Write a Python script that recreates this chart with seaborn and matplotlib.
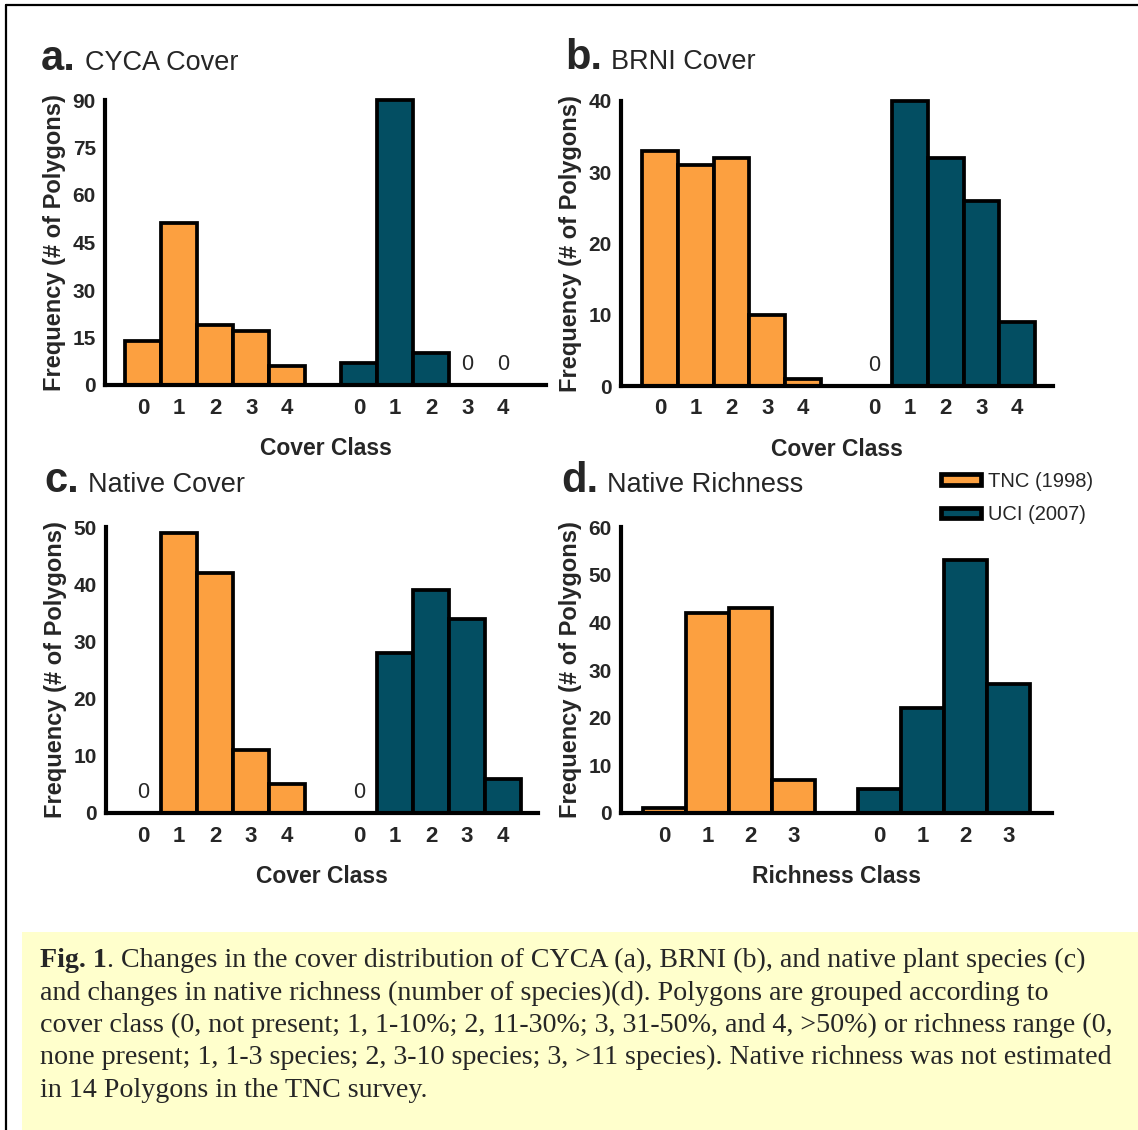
import matplotlib.pyplot as plt
import matplotlib.patches as mpatches
from matplotlib.lines import Line2D
import pandas as pd
import seaborn as sns

# survey groups and class labels
surveys = ['TNC (1998)', 'UCI (2007)']
cover_classes = [0, 1, 2, 3, 4]
richness_classes = [0, 1, 2, 3]

# counts of polygons per class
cyca_tnc = [14, 51, 19, 17, 6]
cyca_uci = [7, 90, 10, 0, 0]
brni_tnc = [33, 31, 32, 10, 1]
brni_uci = [0, 40, 32, 26, 9]
native_tnc = [0, 49, 42, 11, 5]
native_uci = [0, 28, 39, 34, 6]
rich_tnc = [1, 42, 43, 7]
rich_uci = [5, 22, 53, 27]

cyca_yticks = [0, 15, 30, 45, 60, 75, 90]
brni_yticks = [0, 10, 20, 30, 40]
native_yticks = [0, 10, 20, 30, 40, 50]
rich_yticks = [0, 10, 20, 30, 40, 50, 60]

colors = {'TNC (1998)': '#FCA040', 'UCI (2007)': '#034E62'}

caption_lines = [
    "Changes in the cover distribution of CYCA (a), BRNI (b), and native plant species (c)",
    "and changes in native richness (number of species)(d). Polygons are grouped according to",
    "cover class (0, not present; 1, 1-10%; 2, 11-30%; 3, 31-50%, and 4, >50%) or richness range (0,",
    "none present; 1, 1-3 species; 2, 3-10 species; 3, >11 species). Native richness was not estimated",
    "in 14 Polygons in the TNC survey.",
]

sns.set_style('white')
plt.rcParams['font.family'] = ['Liberation Sans', 'DejaVu Sans']

W, H = 1138, 1130
fig = plt.figure(figsize=(W / 100, H / 100), dpi=100)


def px_rect(l, r, t, b):
    return [l / W, 1 - b / H, (r - l) / W, (b - t) / H]


# letter, title, classes, tnc, uci, yticks, xlabel, axes box (px), xlim, letter pos, title x
panels = [
    ('a.', 'CYCA Cover', cover_classes, cyca_tnc, cyca_uci, cyca_yticks, 'Cover Class',
     (105, 546, 100, 385), (-1.06, 11.19), (41, 70), 85),
    ('b.', 'BRNI Cover', cover_classes, brni_tnc, brni_uci, brni_yticks, 'Cover Class',
     (621, 1053, 101, 386), (-1.09, 11.0), (565, 69), 611),
    ('c.', 'Native Cover', cover_classes, native_tnc, native_uci, native_yticks, 'Cover Class',
     (106, 538, 527, 813), (-1.03, 10.97), (44, 492), 88),
    ('d.', 'Native Richness', richness_classes, rich_tnc, rich_uci, rich_yticks, 'Richness Class',
     (621, 1052, 527, 813), (-1.01, 9.0), (561, 492), 607),
]

for letter, title, classes, tnc, uci, yticks, xlabel, box, xlim, lpos, tx in panels:
    ax = fig.add_axes(px_rect(*box))
    gap = len(classes) + 1
    df = pd.DataFrame({
        'survey': [surveys[0]] * len(classes) + [surveys[1]] * len(classes),
        'cls': classes + classes,
        'pos': list(range(len(classes))) + [i + gap for i in range(len(classes))],
        'count': tnc + uci,
    })
    sns.barplot(data=df, x='pos', y='count', hue='survey', palette=colors,
                native_scale=True, width=1, dodge=False, errorbar=None, saturation=1,
                edgecolor='black', linewidth=2.7, legend=False, ax=ax)
    for p in ax.patches:
        p.set_clip_on(False)

    # "0" above empty classes
    for _, row in df[df['count'] == 0].iterrows():
        ax.annotate('0', (row['pos'], 0), xytext=(0, 7), textcoords='offset points',
                    ha='center', va='bottom', fontsize=15.5)

    ax.set_xlim(*xlim)
    ax.set_ylim(0, yticks[-1])
    ax.set_xticks(df['pos'], labels=[str(c) for c in df['cls']],
                  fontsize=16, fontweight='bold')
    ax.set_yticks(yticks, labels=[str(v) for v in yticks],
                  fontsize=15, fontweight='bold')
    ax.tick_params(axis='x', length=0, pad=9)
    ax.tick_params(axis='y', direction='out', length=6, width=2.4, pad=0.5)
    for side in ['top', 'right']:
        ax.spines[side].set_visible(False)
    for side in ['left', 'bottom']:
        ax.spines[side].set_linewidth(3.0)
        ax.spines[side].set_color('black')
    ax.set_xlabel(xlabel, fontsize=16.5, fontweight='bold', labelpad=13)
    ax.set_ylabel('Frequency (# of Polygons)', fontsize=17, fontweight='bold', labelpad=5)

    fig.text(lpos[0] / W, 1 - lpos[1] / H, letter, fontsize=30, fontweight='bold', va='baseline')
    fig.text(tx / W, 1 - lpos[1] / H, title, fontsize=19.5, va='baseline')

handles = [mpatches.Patch(facecolor=colors[s], edgecolor='black', linewidth=3.4, label=s)
           for s in surveys]
fig.legend(handles=handles, loc='upper left', bbox_to_anchor=(941 / W, 1 - 472 / H),
           frameon=False, fontsize=14.5, handlelength=2.0, handleheight=0.45,
           handletextpad=0.35, labelspacing=0.7, borderpad=0, borderaxespad=0)

# caption box
fig.add_artist(mpatches.Rectangle((22 / W, 0), 1, (H - 932) / H, transform=fig.transFigure,
                                  facecolor='#FFFFCC', edgecolor='none', zorder=0))
cap_font = dict(family=['Liberation Serif', 'DejaVu Serif'], fontsize=20.2, va='baseline')
renderer = fig.canvas.get_renderer()
bold = fig.text(40 / W, 1 - 967 / H, 'Fig. 1', fontweight='bold', **cap_font)
x1 = bold.get_window_extent(renderer=renderer).x1
fig.text(x1 / W, 1 - 967 / H, '. ' + caption_lines[0], **cap_font)
for i, line in enumerate(caption_lines[1:], start=1):
    fig.text(40 / W, 1 - (967 + 32.5 * i) / H, line, **cap_font)

# frame lines
fig.add_artist(Line2D([6 / W, 1], [1 - 5 / H, 1 - 5 / H], color='black', lw=1.6,
                      transform=fig.transFigure))
fig.add_artist(Line2D([6 / W, 6 / W], [0, 1 - 5 / H], color='black', lw=1.6,
                      transform=fig.transFigure))

fig.savefig('out.png', dpi=100)
